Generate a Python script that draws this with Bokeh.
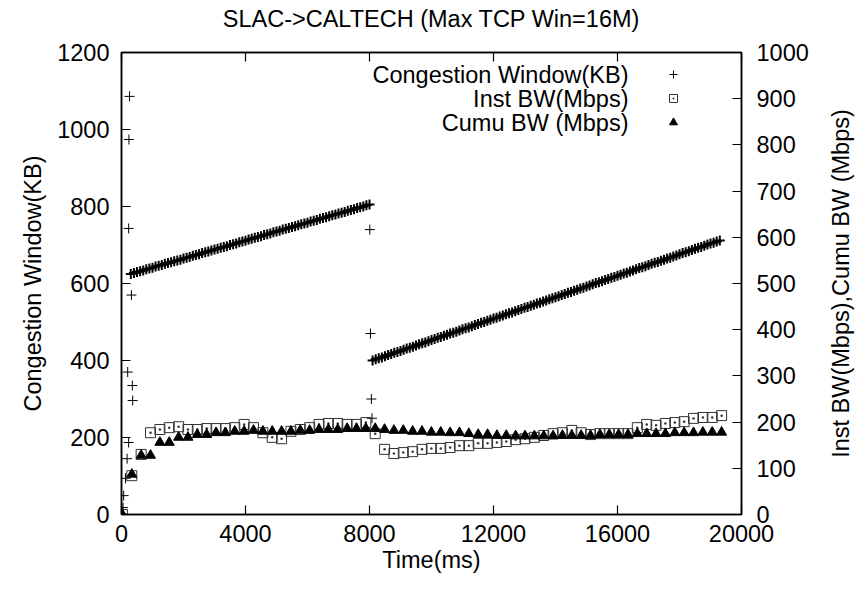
import math
from bokeh.plotting import figure
from bokeh.layouts import row
from bokeh.models import Range1d, LinearAxis, Legend, LegendItem, Label
from bokeh.embed import file_html
from bokeh.resources import INLINE

FONT = "Liberation Sans"
FS = "23.5px"

# ---- tick values ----
x_ticks = [0, 4000, 8000, 12000, 16000, 20000]
y_ticks = [0, 200, 400, 600, 800, 1000, 1200]
y2_ticks = [0, 100, 200, 300, 400, 500, 600, 700, 800, 900, 1000]

# ---- Congestion window (KB), left axis ----
cwnd_start_time = [20, 50, 70, 130, 180, 200, 230, 230, 240, 260, 320, 350, 360]
cwnd_start_kb = [0, 18, 49, 94, 145, 370, 187, 743, 974, 1086, 570, 335, 296]

cwnd_run1_time = [300, 400, 500, 600, 700, 800, 900, 1000, 1100, 1200,
                  1300, 1400, 1500, 1600, 1700, 1800, 1900, 2000, 2100, 2200,
                  2300, 2400, 2500, 2600, 2700, 2800, 2900, 3000, 3100, 3200,
                  3300, 3400, 3500, 3600, 3700, 3800, 3900, 4000, 4100, 4200,
                  4300, 4400, 4500, 4600, 4700, 4800, 4900, 5000, 5100, 5200,
                  5300, 5400, 5500, 5600, 5700, 5800, 5900, 6000, 6100, 6200,
                  6300, 6400, 6500, 6600, 6700, 6800, 6900, 7000, 7100, 7200,
                  7300, 7400, 7500, 7600, 7700, 7800, 7900, 8000]
cwnd_run1_kb = [625, 627, 630, 632, 634, 637, 639, 641, 644, 646,
                648, 651, 653, 655, 658, 660, 662, 665, 667, 669,
                672, 674, 676, 679, 681, 683, 686, 688, 690, 693,
                695, 697, 700, 702, 704, 707, 709, 711, 714, 716,
                719, 721, 723, 726, 728, 730, 733, 735, 737, 740,
                742, 744, 747, 749, 751, 754, 756, 758, 761, 763,
                765, 768, 770, 772, 775, 777, 779, 782, 784, 786,
                789, 791, 793, 796, 798, 800, 803, 805]

cwnd_drop_time = [8010, 8030, 8060, 8080]
cwnd_drop_kb = [740, 470, 300, 250]

cwnd_run2_time = [8100, 8200, 8300, 8400, 8500, 8600, 8700, 8800, 8900, 9000,
                  9100, 9200, 9300, 9400, 9500, 9600, 9700, 9800, 9900, 10000,
                  10100, 10200, 10300, 10400, 10500, 10600, 10700, 10800, 10900, 11000,
                  11100, 11200, 11300, 11400, 11500, 11600, 11700, 11800, 11900, 12000,
                  12100, 12200, 12300, 12400, 12500, 12600, 12700, 12800, 12900, 13000,
                  13100, 13200, 13300, 13400, 13500, 13600, 13700, 13800, 13900, 14000,
                  14100, 14200, 14300, 14400, 14500, 14600, 14700, 14800, 14900, 15000,
                  15100, 15200, 15300, 15400, 15500, 15600, 15700, 15800, 15900, 16000,
                  16100, 16200, 16300, 16400, 16500, 16600, 16700, 16800, 16900, 17000,
                  17100, 17200, 17300, 17400, 17500, 17600, 17700, 17800, 17900, 18000,
                  18100, 18200, 18300, 18400, 18500, 18600, 18700, 18800, 18900, 19000,
                  19100, 19200, 19300]
cwnd_run2_kb = [400, 403, 406, 408, 411, 414, 417, 420, 422, 425,
                428, 431, 433, 436, 439, 442, 445, 447, 450, 453,
                456, 459, 461, 464, 467, 470, 472, 475, 478, 481,
                484, 486, 489, 492, 495, 498, 500, 503, 506, 509,
                511, 514, 517, 520, 523, 525, 528, 531, 534, 537,
                539, 542, 545, 548, 550, 553, 556, 559, 562, 564,
                567, 570, 573, 576, 578, 581, 584, 587, 589, 592,
                595, 598, 601, 603, 606, 609, 612, 615, 617, 620,
                623, 626, 628, 631, 634, 637, 640, 642, 645, 648,
                651, 654, 656, 659, 662, 665, 667, 670, 673, 676,
                679, 681, 684, 687, 690, 693, 695, 698, 701, 704,
                706, 709, 712]

# ---- Bandwidth samples (Mbps), right axis ----
bw_time = [30, 332, 634, 936, 1238, 1540, 1842, 2144, 2446, 2748,
           3050, 3352, 3654, 3956, 4258, 4560, 4862, 5164, 5466, 5768,
           6070, 6372, 6674, 6976, 7278, 7580, 7882, 8184, 8486, 8788,
           9090, 9392, 9694, 9996, 10298, 10600, 10902, 11204, 11506, 11808,
           12110, 12412, 12714, 13016, 13318, 13620, 13922, 14224, 14526, 14828,
           15130, 15432, 15734, 16036, 16338, 16640, 16942, 17244, 17546, 17848,
           18150, 18452, 18754, 19056, 19358]
inst_bw = [0, 84, 130, 177, 184, 188, 190, 184, 184, 186,
           186, 186, 188, 195, 188, 177, 167, 164, 180, 184,
           188, 195, 197, 197, 195, 195, 199, 175, 141, 132,
           134, 136, 141, 143, 143, 145, 149, 149, 154, 154,
           156, 158, 162, 164, 167, 171, 175, 177, 182, 177,
           173, 175, 175, 175, 175, 188, 195, 193, 197, 199,
           201, 208, 210, 210, 214]
cumu_bw = [0, 87, 128, 128, 156, 156, 167, 167, 173, 173,
           177, 177, 180, 180, 182, 180, 180, 180, 180, 182,
           182, 184, 184, 184, 186, 186, 186, 186, 184, 182,
           182, 180, 180, 178, 178, 177, 177, 175, 173, 173,
           171, 171, 170, 170, 170, 170, 170, 171, 171, 171,
           171, 173, 173, 173, 173, 175, 175, 175, 175, 177,
           177, 177, 178, 178, 178]

series_names = ["Congestion Window(KB)", "Inst BW(Mbps)", "Cumu BW (Mbps)"]
right_label = "Inst BW(Mbps),Cumu BW (Mbps)"

cwnd_band_time = cwnd_run1_time + cwnd_run2_time
cwnd_band_kb = cwnd_run1_kb + cwnd_run2_kb
cwnd_iso_time = cwnd_start_time + cwnd_drop_time
cwnd_iso_kb = cwnd_start_kb + cwnd_drop_kb

p = figure(width=811, height=589, output_backend="svg", toolbar_location=None,
           x_range=Range1d(0, 20000), y_range=Range1d(0, 1200),
           min_border_left=121, min_border_right=69, min_border_top=52, min_border_bottom=75,
           title="SLAC->CALTECH (Max TCP Win=16M)",
           x_axis_label="Time(ms)", y_axis_label="Congestion Window(KB)")
p.extra_y_ranges = {"bw": Range1d(0, 1000)}

bottom_axis = p.below[0]
left_axis = p.left[0]
bottom_axis.ticker = x_ticks
left_axis.ticker = y_ticks
right_axis = LinearAxis(y_range_name="bw", ticker=y2_ticks)
p.add_layout(right_axis, "right")
top_axis = LinearAxis(ticker=x_ticks)
p.add_layout(top_axis, "above")
# invisible spacer above the frame, keeps the title up at the top edge
spacer_axis = LinearAxis(ticker=x_ticks, major_tick_in=0, major_tick_out=21,
                         major_tick_line_color=None, minor_tick_line_color=None,
                         axis_line_color=None, major_label_standoff=0,
                         major_label_text_font_size="0px")
p.add_layout(spacer_axis, "above")

for ax in [bottom_axis, left_axis, right_axis, top_axis]:
    ax.axis_line_color = "black"
    ax.axis_line_width = 1.5
    ax.major_tick_line_color = "black"
    ax.major_tick_line_width = 1.2
    ax.major_tick_in = 9
    ax.major_tick_out = 0
    ax.minor_tick_line_color = None
    ax.major_label_text_font = FONT
    ax.major_label_text_font_size = FS
    ax.major_label_text_color = "black"
    ax.axis_label_text_font = FONT
    ax.axis_label_text_font_size = FS
    ax.axis_label_text_font_style = "normal"
    ax.axis_label_text_color = "black"

left_axis.major_label_standoff = 12
left_axis.axis_label_standoff = 8
right_axis.major_label_standoff = 15
bottom_axis.major_label_standoff = 10
bottom_axis.axis_label_standoff = 2
top_axis.major_label_text_font_size = "0px"
top_axis.major_label_standoff = 0

p.xgrid.visible = False
p.ygrid.visible = False
p.outline_line_color = "black"
p.outline_line_width = 1.5

p.title.text_font = FONT
p.title.text_font_size = FS
p.title.text_font_style = "normal"
p.title.text_color = "black"
p.title.align = "center"
p.title.standoff = 0

r1 = p.scatter(cwnd_iso_time, cwnd_iso_kb, marker="cross", size=10,
               line_color="black", line_width=1)
p.scatter(cwnd_band_time, cwnd_band_kb, marker="cross", size=10,
          line_color="black", line_width=2)
r2 = p.scatter(bw_time, inst_bw, marker="square_dot", size=10, line_color="#333333",
               fill_color=None, line_width=1, y_range_name="bw")
r3 = p.scatter(bw_time, cumu_bw, marker="triangle", size=10, line_color="black",
               fill_color="black", y_range_name="bw")

legend = Legend(items=[LegendItem(label=" ", renderers=[r]) for r in (r1, r2, r3)],
                location=(542, 382), padding=0, margin=0, spacing=4,
                glyph_width=20, glyph_height=20, label_width=0, label_standoff=0,
                border_line_alpha=0, background_fill_alpha=0, label_text_font_size="8px")
p.add_layout(legend)

for name, ypos in zip(series_names, [440, 416, 392]):
    p.add_layout(Label(x=507, y=ypos, x_units="screen", y_units="screen", text=name,
                       text_align="right", text_baseline="middle", text_font=FONT,
                       text_font_size=FS, text_color="black"))

# narrow strip holding the right-hand (second y) axis title, read bottom-to-top
p2 = figure(width=45, height=589, output_backend="svg", toolbar_location=None,
            x_range=Range1d(0, 1), y_range=Range1d(0, 1000),
            min_border_left=44, min_border_right=0, min_border_top=52, min_border_bottom=75,
            y_axis_label=right_label)
p2.outline_line_color = None
p2.xgrid.visible = False
p2.ygrid.visible = False
p2.xaxis.visible = False
ax2 = p2.left[0]
ax2.ticker = y2_ticks
ax2.axis_line_color = None
ax2.major_tick_line_color = None
ax2.minor_tick_line_color = None
ax2.major_label_text_font_size = "0px"
ax2.major_label_standoff = 0
ax2.axis_label_text_font = FONT
ax2.axis_label_text_font_size = FS
ax2.axis_label_text_font_style = "normal"
ax2.axis_label_text_color = "black"
ax2.axis_label_standoff = -4

layout = row(p, p2)
open("out.html", "w").write(file_html(layout, INLINE))
